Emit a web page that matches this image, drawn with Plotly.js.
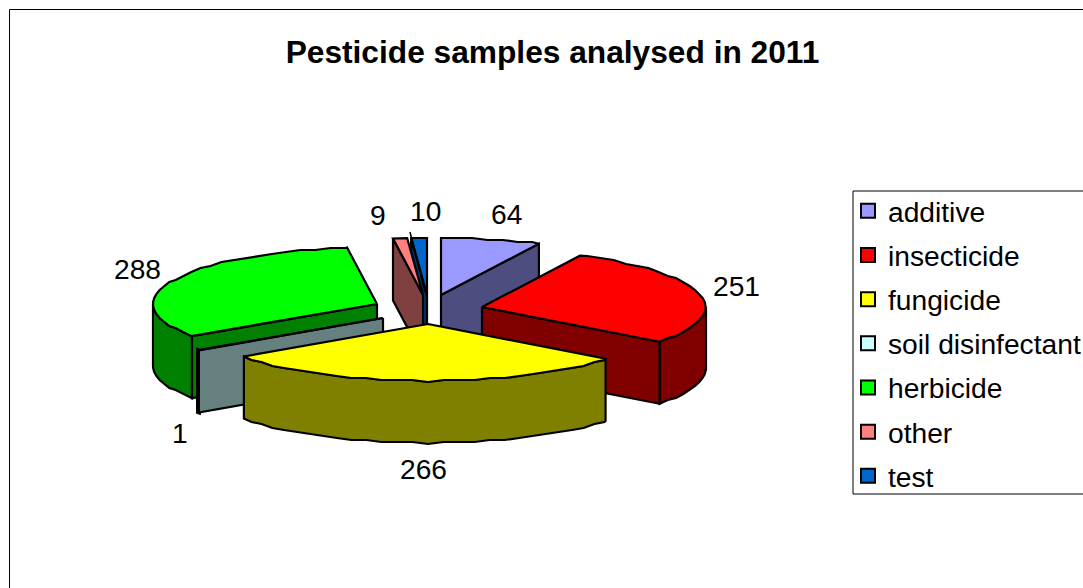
<!DOCTYPE html>
<html>
<head>
<meta charset="utf-8">
<script src="https://cdn.plot.ly/plotly-3.0.1.min.js"></script>
<style>html,body{margin:0;padding:0;background:#fff;overflow:hidden}#chart{width:1083px;height:588px}</style>
</head>
<body>
<div id="chart"></div>
<script>
// ---- data ----
const categories = ['additive', 'insecticide', 'fungicide', 'soil disinfectant', 'herbicide', 'other', 'test'];
const sampleCounts = [64, 251, 266, 1, 288, 9, 10];
const chartTitle = 'Pesticide samples analysed in 2011';

// ---- styling ----
const topColors = ['#9999FF', '#FF0000', '#FFFF00', '#CCFFFF', '#00FF00', '#FF8080', '#0066CC'];
const sideColors = ['#4D4D80', '#800000', '#808000', '#668080', '#008000', '#804040', '#003366'];
const apexX = [441, 482, 428, 383, 377, 423, 427];
const apexY = [295, 307, 324, 318, 304, 295, 295];
const labelX = [506, 736, 423, 180, 137, 378, 425];
const labelY = [214, 286, 469, 433, 269, 215, 211];
const paintOrder = [6, 5, 0, 4, 3, 1, 2];
const RX = 224, RY = 57, DEPTH = 62, STEP = 4, SNAP = 2;
const FONT = 'Liberation Sans, Arial, sans-serif';

const total = sampleCounts.reduce((a, b) => a + b, 0);
let running = 0;
const startDeg = [], endDeg = [];
sampleCounts.forEach(v => {
  startDeg.push(running / total * 360);
  running += v;
  endDeg.push(running / total * 360);
});

const rad = d => d * Math.PI / 180;
function anglesBetween(a, b) {
  const out = [a];
  for (let d = Math.ceil(a / STEP) * STEP; d < b; d += STEP) if (d > a) out.push(d);
  out.push(b);
  return out;
}
const px = (i, d) => apexX[i] + RX * Math.sin(rad(d));
const py = (i, d) => apexY[i] - RY * Math.cos(rad(d));
// the reference's rim is slightly stepped: snap inner rim points to a coarse pixel grid
const rimY = (i, d, a, b) => (d === a || d === b) ? py(i, d) : Math.round(py(i, d) / SNAP) * SNAP;

function poly(xs, ys, color, w) {
  return {
    type: 'scatter', mode: 'lines', x: xs.concat(xs[0]), y: ys.concat(ys[0]),
    fill: 'toself', fillcolor: color, line: {color: '#000', width: w || 2.2, shape: 'linear'},
    showlegend: false, hoverinfo: 'skip'
  };
}

const traces = [];
paintOrder.forEach(i => {
  const a = startDeg[i], b = endDeg[i];
  // outer wall: only the part that faces the viewer
  const fa = Math.max(a, 90), fb = Math.min(b, 270);
  if (fb > fa) {
    const ang = anglesBetween(fa, fb);
    const xs = ang.map(d => px(i, d));
    const ys = ang.map(d => rimY(i, d, fa, fb));
    traces.push(poly(xs.concat(xs.slice().reverse()),
      ys.concat(ys.slice().reverse().map(y => y + DEPTH)), sideColors[i], (fb - fa) < 2 ? 4 : 2.2));
  }
  // cut faces that look toward the viewer
  const face = d => poly(
    [apexX[i], px(i, d), px(i, d), apexX[i]],
    [apexY[i], py(i, d), py(i, d) + DEPTH, apexY[i] + DEPTH], sideColors[i]);
  if (Math.sin(rad(a)) < -1e-6) traces.push(face(a));
  if (Math.sin(rad(b)) > 1e-6) traces.push(face(b));
  // top
  const ang = anglesBetween(a, b);
  traces.push(poly([apexX[i]].concat(ang.map(d => px(i, d))),
    [apexY[i]].concat(ang.map(d => rimY(i, d, a, b))), topColors[i]));
});

// leader line of the "10" label
traces.push({type: 'scatter', mode: 'lines', x: [410, 425], y: [232, 292],
  line: {color: '#000', width: 1.5}, showlegend: false, hoverinfo: 'skip'});

// legend entries
categories.forEach((c, i) => traces.push({
  type: 'scatter', mode: 'markers', name: c, x: [-100], y: [-100], legendgroup: c,
  marker: {symbol: 'square', size: 14, color: topColors[i], line: {color: '#000', width: 2}},
  hoverinfo: 'skip'
}));

const layout = {
  width: 1083, height: 588,
  margin: {l: 0, r: 0, t: 0, b: 0, pad: 0, autoexpand: false},
  paper_bgcolor: '#fff', plot_bgcolor: '#fff',
  xaxis: {range: [0, 1083], visible: false, fixedrange: true},
  yaxis: {range: [588, 0], visible: false, fixedrange: true},
  title: {text: '<b>' + chartTitle + '</b>', x: 552.5 / 1083, xref: 'paper', xanchor: 'center',
    y: 1 - 52 / 588, yref: 'paper', yanchor: 'middle',
    font: {family: FONT, size: 31.7, color: '#000'}},
  legend: {x: 848 / 1083, xanchor: 'left', y: 1 - 186 / 588, yanchor: 'top',
    bgcolor: 'rgba(0,0,0,0)', borderwidth: 0, tracegroupgap: 4.5, traceorder: 'grouped',
    font: {family: FONT, size: 28.2, color: '#000'}, itemclick: false, itemdoubleclick: false},
  shapes: [
    {type: 'rect', xref: 'x', yref: 'y', x0: 9.5, y0: 9.5, x1: 1100, y1: 600, line: {color: '#000', width: 1}},
    {type: 'rect', xref: 'x', yref: 'y', x0: 853, y0: 191, x1: 1100, y1: 494, line: {color: '#000', width: 1}}
  ],
  annotations: sampleCounts.map((v, i) => ({
    x: labelX[i], y: labelY[i], xref: 'x', yref: 'y', text: String(v), showarrow: false,
    xanchor: 'center', yanchor: 'middle', font: {family: FONT, size: 28.2, color: '#000'}
  }))
};

Plotly.newPlot('chart', traces, layout, {staticPlot: true, displayModeBar: false});
</script>
</body>
</html>
